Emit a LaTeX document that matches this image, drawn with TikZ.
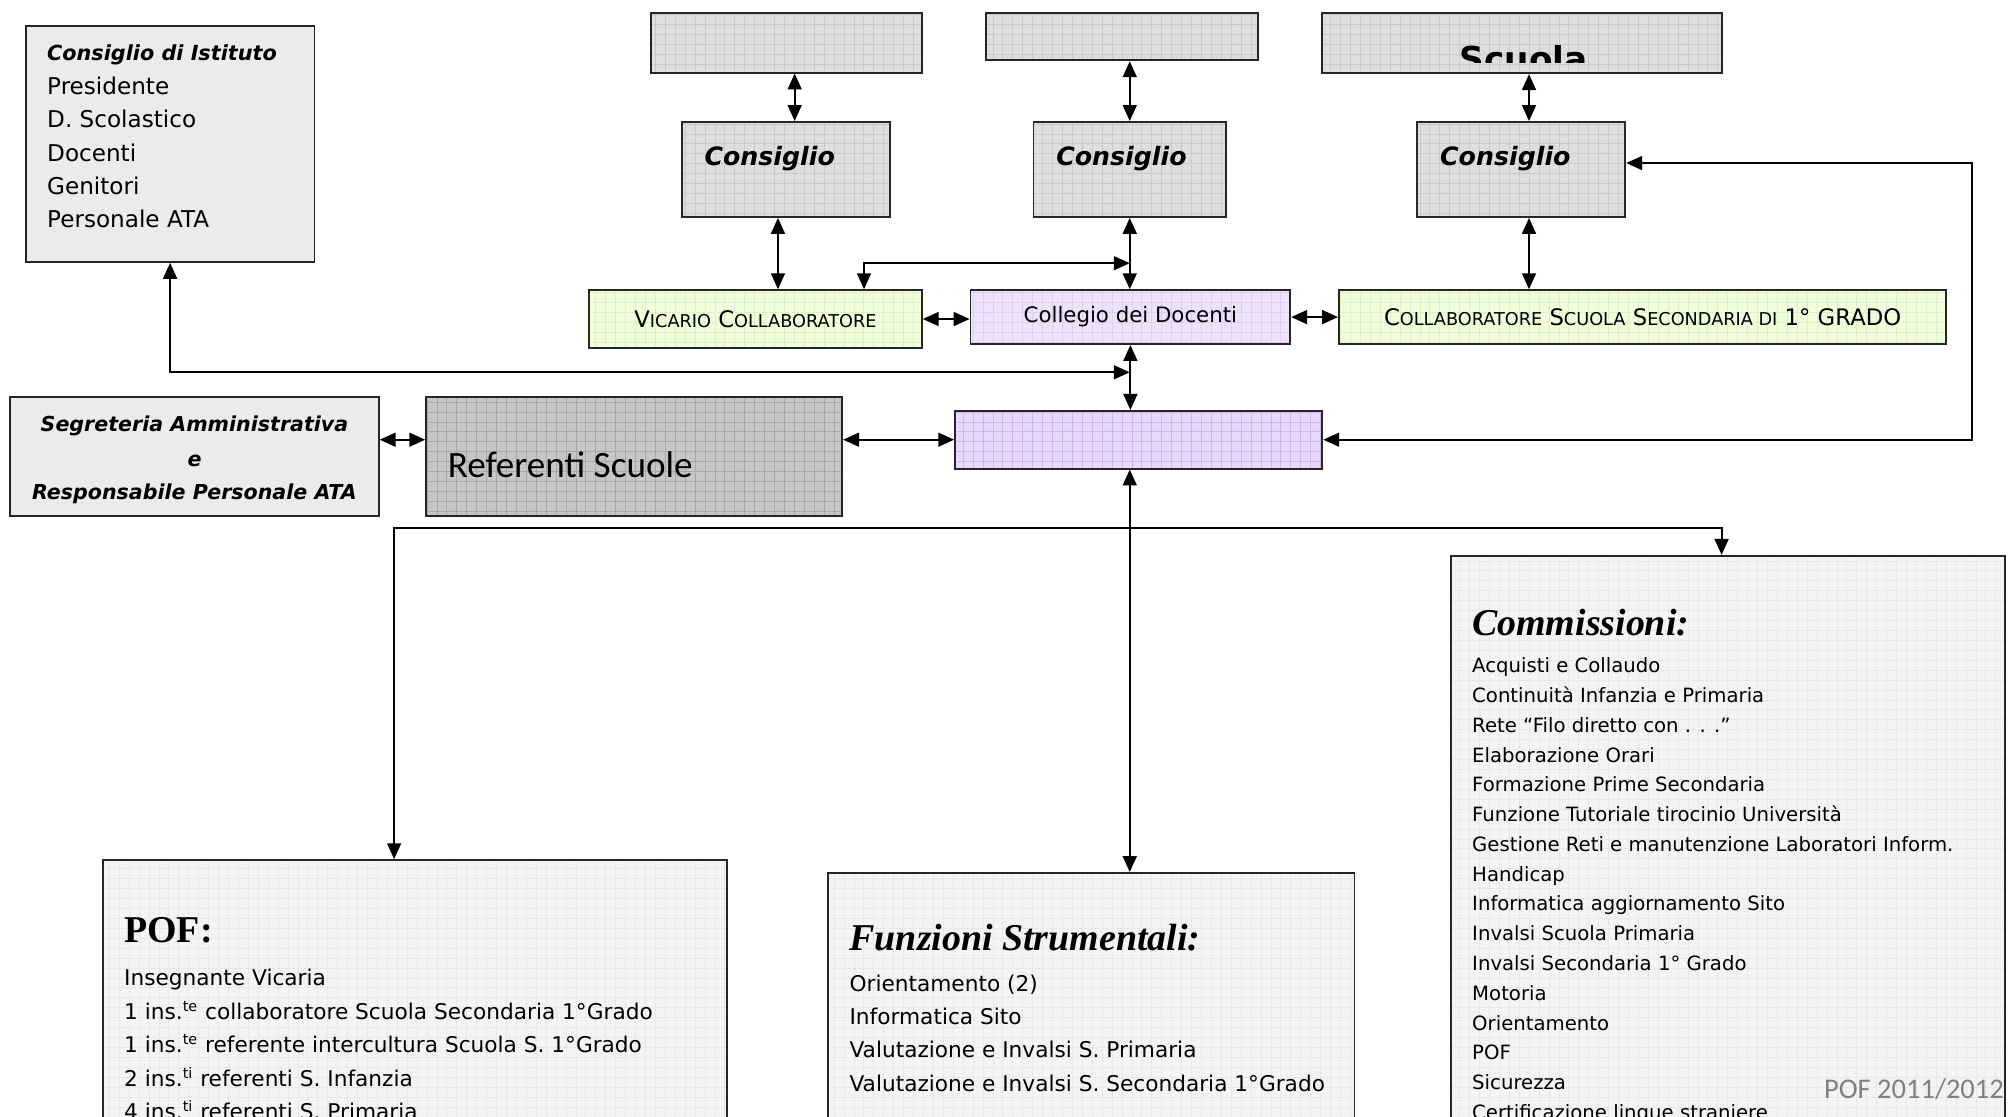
\documentclass[tikz,border=0pt]{standalone}
\usepackage{fontspec}
\setmainfont{DejaVu Sans}
\newfontfamily\headfont{Liberation Serif}
\newfontfamily\calibrifont{Carlito}
\usetikzlibrary{arrows.meta, patterns.meta}

\definecolor{cigray}{HTML}{EBEBEB}
\definecolor{topgray}{HTML}{DEDEDE}
\definecolor{topgrid}{HTML}{CACACA}
\definecolor{refgray}{HTML}{C6C6C6}
\definecolor{refgrid}{HTML}{A8A8A8}
\definecolor{vicgreen}{HTML}{F0FFDA}
\definecolor{vicgrid}{HTML}{DEEFCA}
\definecolor{collviolet}{HTML}{EEE2FF}
\definecolor{collgrid}{HTML}{DDCEF4}
\definecolor{dirviolet}{HTML}{E8D8FF}
\definecolor{dirgrid}{HTML}{CDB4F2}
\definecolor{listgray}{HTML}{F4F4F4}
\definecolor{listgrid}{HTML}{E8E8E8}

\newcommand{\smc}[1]{{\fontsize{9.8}{10}\selectfont #1}}

\begin{document}
\begin{tikzpicture}[x=0.025cm, y=-0.025cm, line width=1.1pt,
  >={Triangle[length=3.1mm, width=2.7mm]},
  box/.style={draw=black!85, line width=1pt, inner sep=0pt},
  gridbox/.style 2 args={box, preaction={fill=#1},
    pattern={Hatch[angle=0, distance=5.5pt, line width=0.4pt]}, pattern color=#2},
  constext/.style={anchor=base west, inner sep=0pt, font=\bfseries\itshape\fontsize{14}{16}\selectfont},
  ciitem/.style={anchor=base west, inner sep=0pt, font=\fontsize{12.8}{14}\selectfont},
  item/.style={anchor=base west, inner sep=0pt, font=\fontsize{12}{13}\selectfont},
  smallitem/.style={anchor=base west, inner sep=0pt, font=\fontsize{10.9}{12}\selectfont},
  heading/.style={anchor=base west, inner sep=0pt, font=\headfont\bfseries\itshape\fontsize{21}{24}\selectfont}
]
\path[use as bounding box] (0,0) rectangle (1568,870);
\clip (0,0) rectangle (1568,870);

% Consiglio di Istituto
\node[box, fill=cigray, minimum width=5.625cm, minimum height=4.6cm] (ci) at (132.5,112) {};
\node[anchor=base west, inner sep=0pt, font=\bfseries\itshape\fontsize{11.5}{13}\selectfont] (cititle) at (36,47.5) {Consiglio di Istituto};
\foreach \t [count=\i from 0] in {Presidente, D. Scolastico, Docenti, Genitori, Personale ATA}
  \node[ciitem] (ci\i) at (36, 73.5+26*\i) {\t};

% Scuole (top row)
\node[gridbox={topgray}{topgrid}, minimum width=5.275cm, minimum height=1.175cm] (top1) at (612.5,33.5) {};
\node[gridbox={topgray}{topgrid}, minimum width=5.3cm, minimum height=0.925cm] (top2) at (874,28.5) {};
\node[gridbox={topgray}{topgrid}, minimum width=7.775cm, minimum height=1.175cm] (top3) at (1185.5,33.5) {};
\begin{scope}
  \clip (1030,10) rectangle (1341,49);
  \node[anchor=base, inner sep=0pt, font=\bfseries\fontsize{19}{22}\selectfont] (top3t) at (1187,56) {Scuola};
\end{scope}

% Consigli
\node[gridbox={topgray}{topgrid}, minimum width=4.05cm, minimum height=1.85cm] (cons1) at (612,132) {};
\node[gridbox={topgray}{topgrid}, minimum width=3.75cm, minimum height=1.85cm] (cons2) at (880,132) {};
\node[gridbox={topgray}{topgrid}, minimum width=4.05cm, minimum height=1.85cm] (cons3) at (1185,132) {};
\node[constext] (cons1t) at (548,129) {Consiglio};
\node[constext] (cons2t) at (822,129) {Consiglio};
\node[constext] (cons3t) at (1121,129) {Consiglio};

% Collaboratori e Collegio
\node[gridbox={vicgreen}{vicgrid}, minimum width=6.475cm, minimum height=1.125cm,
  font=\fontsize{12.6}{14}\selectfont] (vicario) at (588.5,248.5) {V\smc{ICARIO} C\smc{OLLABORATORE}};
\node[gridbox={collviolet}{collgrid}, minimum width=6.225cm, minimum height=1.05cm,
  font=\fontsize{11.8}{14}\selectfont] (collegio) at (880.5,247) {Collegio dei Docenti};
\node[gridbox={vicgreen}{vicgrid}, minimum width=11.825cm, minimum height=1.05cm,
  font=\fontsize{12.6}{14}\selectfont] (collab) at (1279.5,247)
  {C\smc{OLLABORATORE} S\smc{CUOLA} S\smc{ECONDARIA DI} 1° GRADO};

% Segreteria, Referenti, Dirigenza
\node[box, fill=cigray, minimum width=7.175cm, minimum height=2.325cm] (segr) at (151.5,355.5) {};
\node[anchor=base, inner sep=0pt, font=\bfseries\itshape\fontsize{11.4}{13}\selectfont] (segr1) at (151.5,336) {Segreteria Amministrativa};
\node[anchor=base, inner sep=0pt, font=\bfseries\itshape\fontsize{11.4}{13}\selectfont] (segr2) at (151.5,363) {e};
\node[anchor=base, inner sep=0pt, font=\bfseries\itshape\fontsize{11.4}{13}\selectfont] (segr3) at (151.5,389) {Responsabile Personale ATA};
\node[gridbox={refgray}{refgrid}, minimum width=8.1cm, minimum height=2.325cm] (ref) at (494,355.5) {};
\node[anchor=base west, inner sep=0pt, font=\calibrifont\fontsize{20.6}{24}\selectfont] (reft) at (348,372) {Referenti Scuole};
\node[gridbox={dirviolet}{dirgrid}, minimum width=7.15cm, minimum height=1.125cm] (dir) at (887,342.5) {};

% Lower boxes
\node[gridbox={listgray}{listgrid}, minimum width=12.15cm, minimum height=5.75cm] (pof) at (323,785) {};
\node[gridbox={listgray}{listgrid}, minimum width=10.25cm, minimum height=5.5cm] (fs) at (850,790) {};
\node[gridbox={listgray}{listgrid}, minimum width=10.8cm, minimum height=11.675cm] (comm) at (1346,666.5) {};

\node[heading, font=\headfont\bfseries\fontsize{21}{24}\selectfont] (poft) at (96,734) {POF:};
\foreach \t [count=\i from 0] in {Insegnante Vicaria,
  1 ins.\textsuperscript{te} collaboratore Scuola Secondaria 1°Grado,
  1 ins.\textsuperscript{te} referente intercultura Scuola S. 1°Grado,
  2 ins.\textsuperscript{ti} referenti S. Infanzia,
  4 ins.\textsuperscript{ti} referenti S. Primaria}
  \node[item] (pof\i) at (96, 768+26*\i) {\t};

\node[heading] (fst) at (661,740) {Funzioni Strumentali:};
\foreach \t [count=\i from 0] in {Orientamento (2), Informatica Sito,
  Valutazione e Invalsi S. Primaria, Valutazione e Invalsi S. Secondaria 1°Grado}
  \node[item] (fs\i) at (661, 772+26*\i) {\t};

\node[heading] (commt) at (1146,495) {Commissioni:};
\foreach \t [count=\i from 0] in {Acquisti e Collaudo, Continuità Infanzia e Primaria,
  Rete “Filo diretto con . . .”, Elaborazione Orari, Formazione Prime Secondaria,
  Funzione Tutoriale tirocinio Università, Gestione Reti e manutenzione Laboratori Inform.,
  Handicap, Informatica aggiornamento Sito, Invalsi Scuola Primaria,
  Invalsi Secondaria 1° Grado, Motoria, Orientamento, POF, Sicurezza,
  Certificazione lingue straniere}
  \node[smallitem] (comm\i) at (1146, 524+23.2*\i) {\t};

% Connectors
\draw[<->] (top1.south -| 619,0) -- (cons1.north -| 619,0);
\draw[<->] (top2.south -| cons2.north) -- (cons2.north);
\draw[<->] (top3.south -| 1191,0) -- (cons3.north -| 1191,0);
\draw[<->] (cons1.south -| 606,0) -- (vicario.north -| 606,0);
\draw[<->] (cons2.south) -- (collegio.north -| cons2.south);
\draw[<->] (cons3.south -| 1191,0) -- (collab.north -| 1191,0);

\coordinate (jv) at (880,205);
\draw[<->] (vicario.north -| 673,0) |- (jv);
\draw[<->] (vicario.east) -- (vicario.east -| collegio.west);
\draw[<->] (collegio.east) -- (collegio.east -| collab.west);
\draw[<->] (collegio.south) -- (collegio.south |- dir.north);

\coordinate (jc) at (880,290);
\draw[<->] (ci.south) |- (jc);

\draw[<->] (segr.east |- dir.west) -- (ref.west |- dir.west);
\draw[<->] (ref.east |- dir.west) -- (dir.west);
\coordinate (rloop) at (1536,127);
\draw[<->] (dir.east) -| (rloop) -- (cons3.east |- rloop);

\coordinate (spine) at (880,411);
\draw[<->] (dir.south -| spine) -- (fs.north -| spine);
\draw[->] (spine) -| (pof.north -| 307,0);
\draw[->] (spine) -| (comm.north -| 1341,0);

% footer
\node[anchor=base west, inner sep=0pt, text=black!50, font=\calibrifont\fontsize{15.8}{18}\selectfont] (foot) at (1420,856) {POF 2011/2012};

\end{tikzpicture}
\end{document}
